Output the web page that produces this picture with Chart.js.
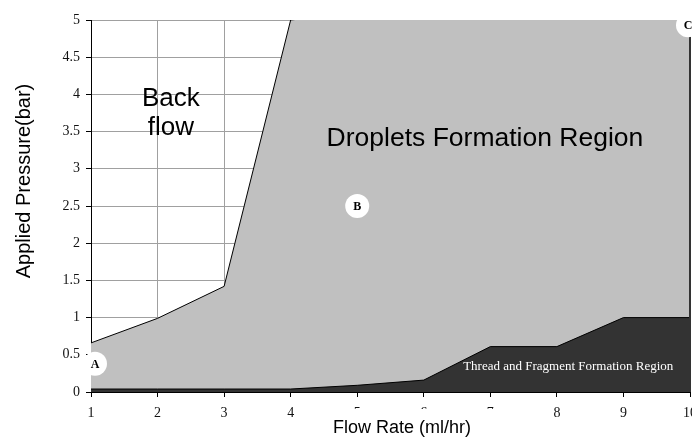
<!DOCTYPE html>
<html>
<head>
<meta charset="utf-8">
<script src="https://cdn.jsdelivr.net/npm/chart.js@4/dist/chart.umd.min.js"></script>
<style>
  html, body { margin: 0; padding: 0; background: #fff; overflow: hidden; }
  #wrap { width: 705px; height: 438px; }
</style>
</head>
<body>
<div id="wrap"><canvas id="chart0" width="705" height="438"></canvas></div>
<script>
// flow rate (ml/hr) on x
const flowRate = [1, 2, 3, 4, 5, 6, 7, 8, 9, 10];
// upper edge of droplet region (bar); past x=4 it runs off the top of the plot
const dropletTop = [0.66, 0.99, 1.42, 5, 5.1, 5.1, 5.1, 5.1, 5.1, 5.1];
// upper edge of thread / fragment region (bar)
const threadTop = [0.04, 0.04, 0.04, 0.04, 0.09, 0.16, 0.61, 0.61, 1.0, 1.0];
// marked points A, B, C
const markLetters = ["A", "B", "C"];
const markX = [1.06, 5, 9.97];
const markY = [0.38, 2.5, 4.93];

const xTitle = "Flow Rate (ml/hr)";
const yTitle = "Applied Pressure(bar)";

const serif = "'Liberation Serif', 'Times New Roman', serif";
const sans = "'Liberation Sans', Arial, sans-serif";

function pts(xs, ys){
    return xs.map((x, i) => ({x: x, y: ys[i]}));
}

//letters, region names, right edge and the axis titles
const labelsPlugin = {
    id: "regionLabels",
    beforeDatasetDraw(chart, args){
        if (args.index !== 0) return;
        var ctx = chart.ctx, a = chart.chartArea;
        ctx.save();
        ctx.strokeStyle = "#333";
        ctx.lineWidth = 2;
        ctx.beginPath();
        ctx.moveTo(a.right, a.top);
        ctx.lineTo(a.right, a.bottom);
        ctx.stroke();
        ctx.restore();
    },
    afterDatasetsDraw(chart){
        var ctx = chart.ctx;
        var xs = chart.scales.x, ys = chart.scales.y;
        ctx.save();
        ctx.fillStyle = "#000";
        ctx.textAlign = "center";
        ctx.textBaseline = "alphabetic";
        ctx.font = "26px " + sans;
        ctx.fillText("Back", xs.getPixelForValue(2.2), ys.getPixelForValue(3.84));
        ctx.fillText("flow", xs.getPixelForValue(2.2), ys.getPixelForValue(3.45));
        ctx.textAlign = "left";
        ctx.font = "26.5px " + sans;
        ctx.fillText("Droplets Formation Region", xs.getPixelForValue(4.54), ys.getPixelForValue(3.31));
        ctx.textAlign = "center";
        ctx.fillStyle = "#fff";
        ctx.font = "13px " + serif;
        ctx.fillText("Thread and Fragment Formation Region", xs.getPixelForValue(8.17), ys.getPixelForValue(0.30));

        var meta = chart.getDatasetMeta(0);
        ctx.fillStyle = "#000";
        ctx.font = "bold 12px " + serif;
        ctx.textBaseline = "middle";
        meta.data.forEach(function(p, i){
            ctx.fillText(markLetters[i], p.x, p.y + 1);
        });
        ctx.restore();
    },
    afterDraw(chart){
        var ctx = chart.ctx;
        ctx.save();
        ctx.fillStyle = "#fff";
        ctx.fillRect(316, 409, 188, 29);
        ctx.fillStyle = "#000";
        ctx.font = "18px " + sans;
        ctx.textAlign = "center";
        ctx.textBaseline = "middle";
        ctx.fillText(xTitle, 402, 428);
        // y title sits a little above the middle of the axis
        ctx.translate(24, 181);
        ctx.rotate(-Math.PI / 2);
        ctx.font = "20px " + sans;
        ctx.fillText(yTitle, 0, 0);
        ctx.restore();
    }
};

function drawChart(){
    var ctx = document.getElementById("chart0").getContext("2d");
    var gridCfg = { color: "#a0a0a0", lineWidth: 1, tickColor: "#000", tickLength: 5 };
    var chart = new Chart(ctx, {
        type: "line",
        data: {
            datasets: [
                {
                    label: "marks",
                    type: "scatter",
                    data: pts(markX, markY),
                    pointRadius: 12,
                    pointBackgroundColor: "#fff",
                    pointBorderWidth: 0,
                    showLine: false,
                    clip: false,
                    order: 0
                },
                {
                    label: "thread",
                    data: pts(flowRate, threadTop),
                    backgroundColor: "#333333",
                    borderColor: "#000",
                    borderWidth: 1,
                    fill: "origin",
                    pointRadius: 0,
                    tension: 0,
                    order: 1
                },
                {
                    label: "droplets",
                    data: pts(flowRate, dropletTop),
                    backgroundColor: "#c0c0c0",
                    borderColor: "#000",
                    borderWidth: 1,
                    fill: "origin",
                    pointRadius: 0,
                    tension: 0,
                    order: 2
                }
            ]
        },
        options: {
            responsive: false,
            animation: false,
            devicePixelRatio: 1,
            layout: { padding: { left: 0, right: 10, top: 20, bottom: 0 } },
            plugins: { legend: { display: false }, tooltip: { enabled: false } },
            scales: {
                x: {
                    type: "linear",
                    min: 1,
                    max: 10,
                    ticks: { stepSize: 1, padding: 8, color: "#111", font: { family: serif, size: 14 } },
                    grid: gridCfg,
                    border: { color: "#000", width: 1 },
                    afterFit: s => { s.height = 46; }
                },
                y: {
                    min: 0,
                    max: 5,
                    ticks: {
                        stepSize: 0.5, padding: 6, color: "#111", font: { family: serif, size: 14 },
                        callback: v => String(Number(v.toFixed(1)))
                    },
                    grid: gridCfg,
                    border: { color: "#000", width: 1 },
                    title: { display: false, text: yTitle },
                    afterFit: s => { s.width = 91; }
                }
            }
        },
        plugins: [labelsPlugin]
    });
}

drawChart();
</script>
</body>
</html>
